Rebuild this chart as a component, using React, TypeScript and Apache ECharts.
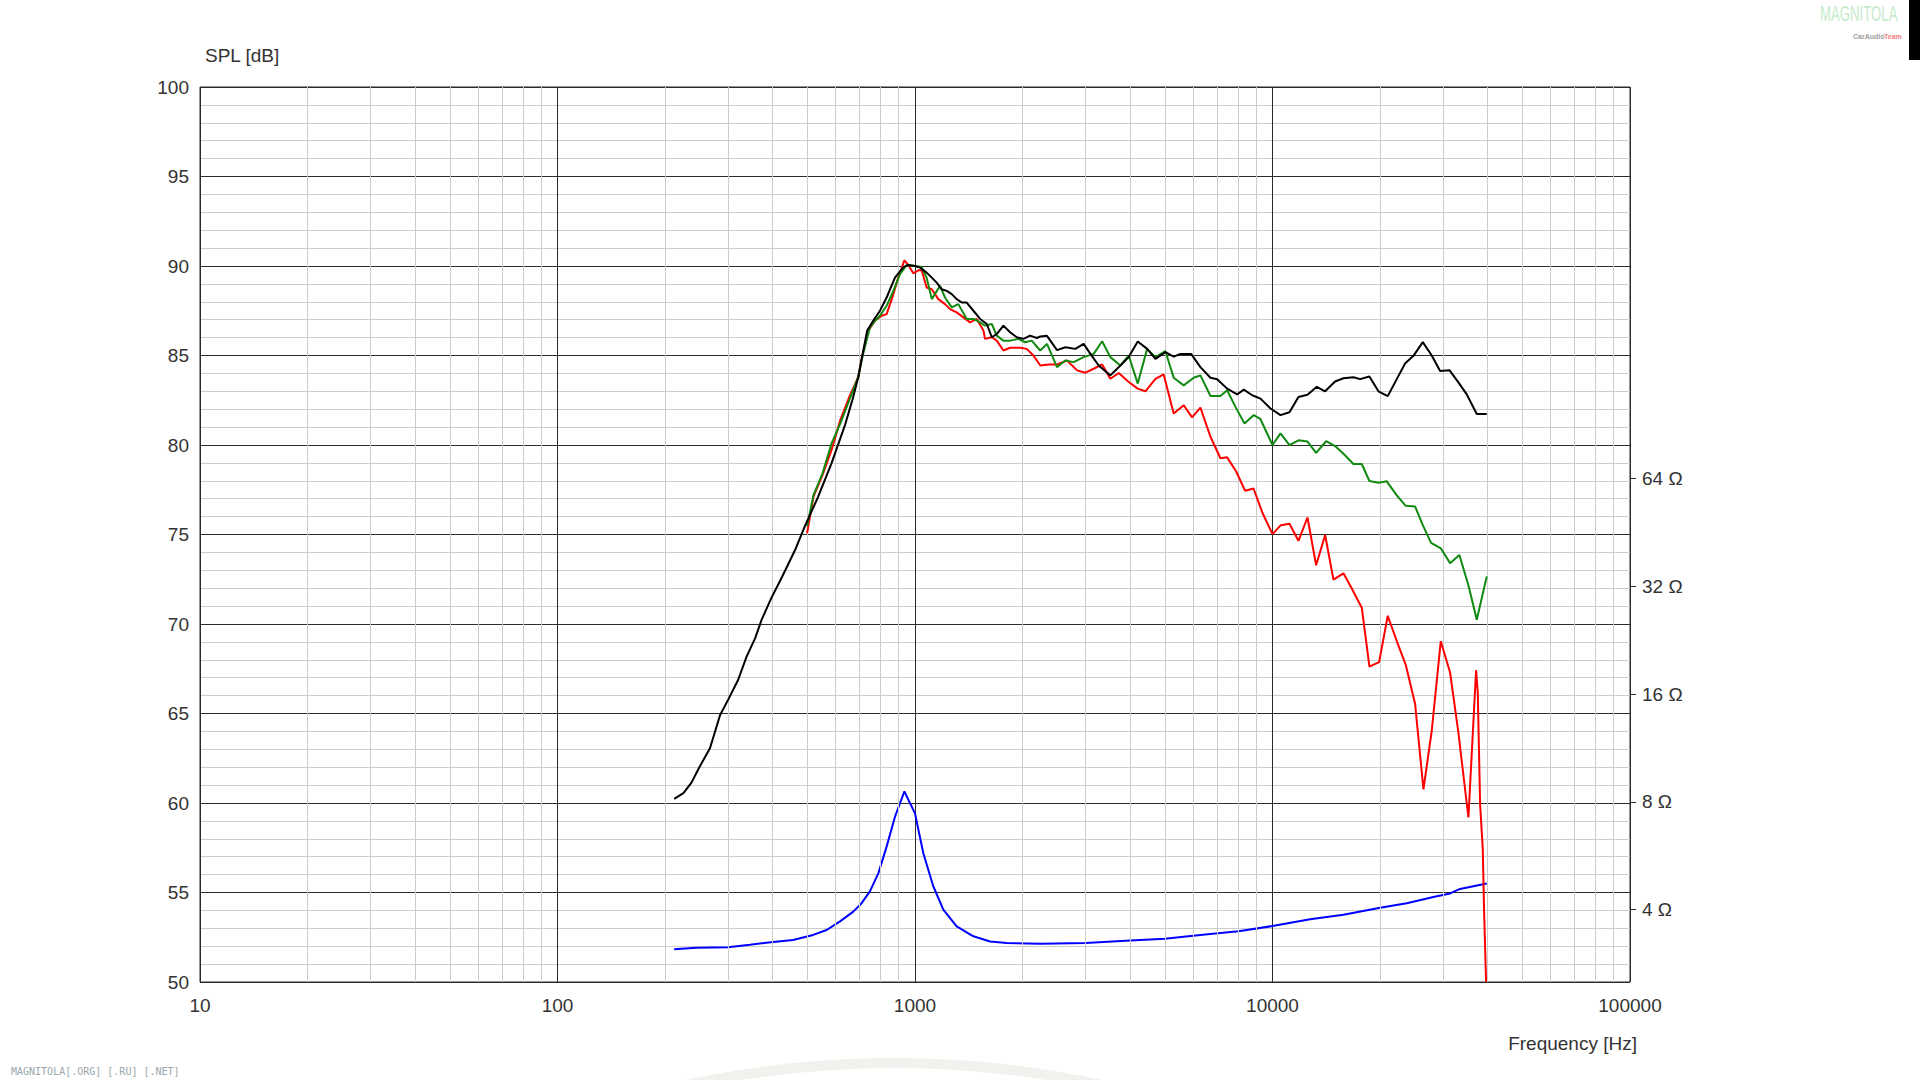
import React, { useEffect, useRef } from 'react';
import * as echarts from 'echarts';

// ---------- data ----------
const freqDecades = [10, 100, 1000, 10000, 100000];
const minorMultipliers = [2, 3, 4, 5, 6, 7, 8, 9];
const splRange = [50, 100];
const splStep = 5;
const impedanceTicks = [4, 8, 16, 32, 64];

// SPL curves: [frequency Hz, dB]
const blackSpl: [number, number][] = [
  [212, 60.23], [225, 60.55], [237, 61.14], [250, 62.04], [267, 63.06], [285, 64.92], [300, 65.76],
  [320, 66.87], [338, 68.18], [357, 69.2], [372, 70.22], [396, 71.43], [425, 72.64], [464, 74.22],
  [491, 75.43], [536, 77.11], [584, 78.97], [637, 81.11], [670, 82.6], [694, 83.8], [714, 85.1],
  [735, 86.4], [764, 86.94], [798, 87.5], [833, 88.24], [879, 89.35], [928, 89.94], [958, 90.06],
  [1000, 90.0], [1033, 89.91], [1078, 89.63], [1114, 89.35], [1150, 89.07], [1188, 88.7], [1227, 88.61],
  [1267, 88.43], [1308, 88.15], [1351, 87.96], [1395, 87.96], [1457, 87.5], [1521, 87.04], [1588, 86.76],
  [1640, 86.02], [1693, 86.2], [1767, 86.67], [1845, 86.3], [1926, 86.02], [2011, 85.93], [2099, 86.11],
  [2191, 85.98], [2242, 86.06], [2340, 86.1], [2496, 85.3], [2634, 85.46], [2809, 85.37], [2963, 85.65],
  [3095, 85.09], [3265, 84.44], [3519, 83.89], [3754, 84.44], [3961, 84.91], [4198, 85.78], [4460, 85.37],
  [4705, 84.81], [5017, 85.19], [5292, 84.94], [5527, 85.09], [5920, 85.09], [6286, 84.35], [6706, 83.76],
  [7002, 83.67], [7467, 83.15], [7965, 82.83], [8312, 83.09], [8774, 82.78], [9256, 82.59], [9872, 82.04],
  [10529, 81.67], [11154, 81.83], [11820, 82.68], [12527, 82.81], [13303, 83.25], [14036, 83.0],
  [14966, 83.55], [15792, 83.73], [16843, 83.78], [17582, 83.68], [18668, 83.83], [19787, 83.0],
  [21008, 82.73], [22263, 83.68], [23488, 84.55], [24784, 84.98], [26328, 85.75], [27893, 85.0],
  [29430, 84.13], [31254, 84.18], [33113, 83.5], [34940, 82.83], [37272, 81.73], [39750, 81.73],
];

const redSpl: [number, number][] = [
  [499, 75.06], [520, 77.11], [551, 78.32], [584, 79.71], [618, 81.39], [655, 82.69], [694, 83.8],
  [709, 84.81], [740, 86.39], [773, 86.94], [807, 87.22], [833, 87.31], [861, 88.15], [898, 89.35],
  [934, 90.31], [958, 90.06], [989, 89.59], [1022, 89.76], [1044, 89.76], [1078, 88.8], [1114, 88.7],
  [1162, 88.15], [1213, 87.87], [1253, 87.59], [1308, 87.41], [1366, 87.13], [1426, 86.85], [1488, 87.04],
  [1554, 86.39], [1570, 85.93], [1640, 86.02], [1693, 85.83], [1767, 85.28], [1845, 85.43], [1968, 85.43],
  [2054, 85.37], [2144, 85.0], [2242, 84.44], [2364, 84.5], [2496, 84.5], [2663, 84.72], [2840, 84.17],
  [2996, 84.04], [3161, 84.26], [3338, 84.5], [3519, 83.7], [3714, 84.02], [3961, 83.52], [4198, 83.15],
  [4411, 83.0], [4705, 83.7], [4962, 83.94], [5292, 81.76], [5646, 82.22], [5958, 81.54], [6286, 82.09],
  [6706, 80.46], [7151, 79.26], [7467, 79.31], [7914, 78.52], [8386, 77.44], [8850, 77.57], [9376, 76.2],
  [10000, 75.02], [10552, 75.52], [11154, 75.6], [11820, 74.65], [12527, 75.95], [13245, 73.28],
  [14036, 74.97], [14808, 72.48], [15792, 72.83], [16663, 71.98], [17771, 70.91], [18668, 67.62],
  [19872, 67.87], [21008, 70.46], [22263, 69.04], [23588, 67.72], [25050, 65.55], [26437, 60.76],
  [27893, 64.05], [29560, 69.04], [31385, 67.29], [33113, 63.93], [35318, 59.19], [37110, 67.42],
  [37513, 66.17], [38080, 59.94], [38740, 57.44], [39071, 53.95], [39578, 50.0],
];

const greenSpl: [number, number][] = [
  [499, 75.47], [520, 77.2], [551, 78.4], [584, 80.08], [618, 81.2], [655, 82.5], [694, 83.8],
  [714, 85.0], [748, 86.57], [773, 86.94], [798, 87.22], [833, 87.78], [870, 88.61], [908, 89.54],
  [948, 90.06], [1000, 90.0], [1044, 89.94], [1078, 89.35], [1114, 88.15], [1175, 88.89], [1213, 88.24],
  [1267, 87.69], [1322, 87.87], [1395, 87.04], [1457, 87.04], [1521, 86.85], [1570, 86.67], [1640, 86.76],
  [1693, 86.11], [1767, 85.83], [1845, 85.83], [1947, 85.93], [2032, 85.74], [2121, 85.83], [2239, 85.28],
  [2340, 85.65], [2496, 84.35], [2634, 84.72], [2779, 84.63], [2963, 84.91], [3161, 85.09], [3338, 85.8],
  [3519, 84.91], [3754, 84.44], [3961, 85.0], [4198, 83.43], [4460, 85.37], [4705, 84.91], [5017, 85.24],
  [5292, 83.76], [5646, 83.33], [6020, 83.76], [6286, 83.89], [6706, 82.74], [7151, 82.74], [7467, 83.06],
  [7878, 82.13], [8349, 81.2], [8865, 81.67], [9256, 81.44], [10000, 80.0], [10529, 80.65], [11154, 79.99],
  [11820, 80.26], [12527, 80.19], [13245, 79.56], [14126, 80.21], [14966, 79.94], [15792, 79.51],
  [16843, 78.94], [17771, 78.94], [18668, 77.99], [19787, 77.89], [20874, 77.97], [22263, 77.19],
  [23588, 76.6], [25050, 76.57], [26328, 75.52], [27772, 74.53], [29560, 74.23], [31385, 73.4],
  [33327, 73.85], [35318, 72.16], [37272, 70.24], [39750, 72.66],
];

// Impedance curve: [frequency Hz, Ohm]
const blueImpedance: [number, number][] = [
  [212, 3.1], [245, 3.13], [300, 3.14], [345, 3.19], [401, 3.25], [456, 3.29], [519, 3.4], [566, 3.51],
  [617, 3.71], [672, 3.95], [709, 4.17], [748, 4.5], [790, 5.06], [833, 6.0], [879, 7.27], [934, 8.56],
  [968, 7.94], [1000, 7.43], [1055, 5.75], [1125, 4.65], [1200, 4.0], [1308, 3.59], [1457, 3.37],
  [1622, 3.26], [1805, 3.23], [2238, 3.21], [3000, 3.23], [4000, 3.28], [5000, 3.32], [6277, 3.4],
  [8033, 3.48], [10000, 3.6], [12742, 3.76], [15792, 3.87], [20000, 4.05], [23741, 4.17], [28190, 4.34],
  [31385, 4.44], [33471, 4.57], [39750, 4.73],
];

// ---------- layout ----------
const FONT = '"Liberation Sans", Arial, Helvetica, sans-serif';
const TEXT_COLOR = '#333333';
const MAJOR = '#2b2b2b';
const MINOR = '#cccccc';
const GRID = { left: 200, top: 87, width: 1430, height: 895 };
// impedance scale: |Z| maps to 20*log10(Z)+42 on the SPL scale
const zToDb = (z: number) => 42 + 20 * Math.log10(z);
const dbToY = (db: number) => GRID.top + ((splRange[1] - db) / (splRange[1] - splRange[0])) * GRID.height;
const zGridTop = dbToY(zToDb(impedanceTicks[impedanceTicks.length - 1]));
const zGridBottom = dbToY(zToDb(impedanceTicks[0]));

const minorFreqs: number[] = [];
freqDecades.slice(0, -1).forEach((d) => minorMultipliers.forEach((m) => minorFreqs.push(d * m)));

const txt = (x: number, y: number, text: string, fill: string, font: string, align = 'left', extra = {}) => ({
  type: 'text',
  x,
  y,
  silent: true,
  ...extra,
  style: {
    text,
    fill,
    font,
    align,
    verticalAlign: 'middle',
    textAlign: align,
    textVerticalAlign: 'middle',
  },
});

export default function App() {
  const ref = useRef<HTMLDivElement>(null);

  useEffect(() => {
    if (!ref.current) return;
    const chart = echarts.init(ref.current, null, { renderer: 'svg' });
    const lineSeries = (name: string, data: [number, number][], color: string) => ({
      name,
      type: 'line',
      xAxisIndex: 0,
      yAxisIndex: 0,
      data,
      showSymbol: false,
      symbol: 'none',
      silent: true,
      z: 5,
      lineStyle: { color, width: 2 },
    });

    chart.setOption({
      animation: false,
      backgroundColor: '#ffffff',
      textStyle: { fontFamily: FONT },
      grid: [
        { ...GRID, show: true, borderColor: MAJOR, borderWidth: 1, backgroundColor: 'transparent' },
        { left: GRID.left, width: GRID.width, top: zGridTop, height: zGridBottom - zGridTop, show: false },
      ],
      xAxis: [
        {
          gridIndex: 0,
          type: 'log',
          logBase: 10,
          min: freqDecades[0],
          max: freqDecades[freqDecades.length - 1],
          z: 2,
          axisLine: { show: false },
          axisTick: { show: false },
          axisLabel: {
            color: TEXT_COLOR,
            fontSize: 19,
            fontFamily: FONT,
            margin: 14,
            formatter: (v: number) => String(Math.round(v)),
          },
          splitLine: { show: true, lineStyle: { color: MAJOR, width: 1 } },
        },
        {
          gridIndex: 1,
          type: 'log',
          logBase: 10,
          min: freqDecades[0],
          max: freqDecades[freqDecades.length - 1],
          show: false,
        },
      ],
      yAxis: [
        {
          gridIndex: 0,
          type: 'value',
          min: splRange[0],
          max: splRange[1],
          interval: splStep,
          z: 2,
          axisLine: { show: false },
          axisTick: { show: false },
          axisLabel: { color: TEXT_COLOR, fontSize: 19, fontFamily: FONT, margin: 11 },
          splitLine: { show: true, lineStyle: { color: MAJOR, width: 1 } },
          minorTick: { show: false, splitNumber: splStep },
          minorSplitLine: { show: true, lineStyle: { color: MINOR, width: 1 } },
        },
        {
          gridIndex: 1,
          type: 'log',
          logBase: 2,
          min: impedanceTicks[0],
          max: impedanceTicks[impedanceTicks.length - 1],
          position: 'right',
          axisLine: { show: false },
          axisTick: { show: true, length: 6, lineStyle: { color: MAJOR, width: 1 } },
          axisLabel: {
            color: TEXT_COLOR,
            fontSize: 19,
            fontFamily: FONT,
            margin: 12,
            formatter: (v: number) => `${Math.round(v)} Ω`,
          },
          splitLine: { show: false },
        },
      ],
      series: [
        {
          type: 'line',
          xAxisIndex: 0,
          yAxisIndex: 0,
          data: [],
          silent: true,
          z: 1,
          markLine: {
            silent: true,
            symbol: ['none', 'none'],
            label: { show: false },
            lineStyle: { color: MINOR, width: 1, type: 'solid' },
            data: minorFreqs.map((f) => ({ xAxis: f })),
          },
        },
        {
          name: 'Impedance',
          type: 'line',
          xAxisIndex: 1,
          yAxisIndex: 1,
          data: blueImpedance,
          showSymbol: false,
          symbol: 'none',
          silent: true,
          clip: false,
          z: 4,
          lineStyle: { color: '#0000ff', width: 2 },
        },
        lineSeries('SPL red', redSpl, '#ff0000'),
        lineSeries('SPL green', greenSpl, '#108a10'),
        lineSeries('SPL black', blackSpl, '#000000'),
      ],
      graphic: [
        {
          type: 'ring',
          silent: true,
          z: -10,
          shape: { cx: 894, cy: 2052, r: 994, r0: 984 },
          style: { fill: '#f1f1ee' },
        },
        {
          type: 'rect',
          silent: true,
          shape: { x: 1909, y: 0, width: 11, height: 60 },
          style: { fill: '#000000' },
        },
        txt(205, 55, 'SPL [dB]', TEXT_COLOR, `19px ${FONT}`),
        txt(1637, 1043, 'Frequency [Hz]', TEXT_COLOR, `19px ${FONT}`, 'right'),
        txt(1820, 14, 'MAGNITOLA', '#c6eacb', `22px ${FONT}`, 'left', { scaleX: 0.6 }),
        txt(1853, 36, 'CarAudio', '#a0a0a0', `bold 7px ${FONT}`),
        txt(1884, 36, 'Team', '#f08080', `bold 7px ${FONT}`),
        txt(11, 1071, 'MAGNITOLA[.ORG] [.RU] [.NET]', '#9aa6aa', `10px "DejaVu Sans Mono", "Liberation Mono", monospace`),
      ],
    });
    return () => chart.dispose();
  }, []);

  return (
    <div
      ref={ref}
      style={{ position: 'fixed', left: 0, top: 0, width: 1920, height: 1080, background: '#fff' }}
    />
  );
}
